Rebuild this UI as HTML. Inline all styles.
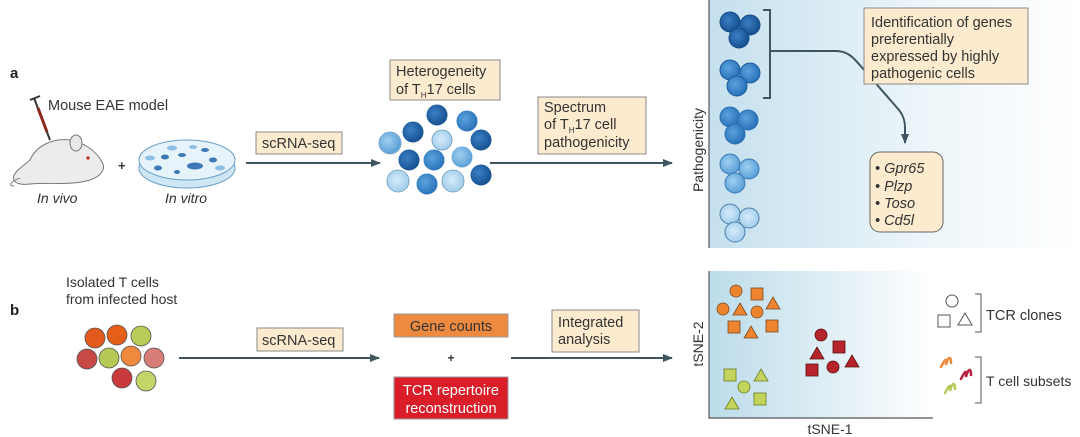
<!DOCTYPE html>
<html><head><meta charset="utf-8"><style>
html,body{margin:0;padding:0;background:#fff;}
svg{display:block;font-family:"Liberation Sans",sans-serif;}
</style></head><body>
<svg width="1080" height="437" viewBox="0 0 1080 437" xmlns="http://www.w3.org/2000/svg">
<defs>
<linearGradient id="gA" x1="0" y1="0" x2="1" y2="0"><stop offset="0" stop-color="#c5e0ee"/><stop offset="0.6" stop-color="#eef6fa"/><stop offset="1" stop-color="#ffffff"/></linearGradient>
<linearGradient id="gB" x1="0" y1="0" x2="1" y2="0"><stop offset="0" stop-color="#bcdcea"/><stop offset="1" stop-color="#ffffff"/></linearGradient>
<marker id="ar" markerWidth="10" markerHeight="8" refX="9" refY="4" orient="auto" markerUnits="userSpaceOnUse"><path d="M0,0 L10,4 L0,8 z" fill="#3e5560"/></marker>
<radialGradient id="cd" cx="0.4" cy="0.4" r="0.6"><stop offset="0" stop-color="#3c7fc4"/><stop offset="1" stop-color="#14508f"/></radialGradient>
<radialGradient id="cm" cx="0.4" cy="0.4" r="0.6"><stop offset="0" stop-color="#5aa3dc"/><stop offset="1" stop-color="#2a72ba"/></radialGradient>
<radialGradient id="cl" cx="0.4" cy="0.4" r="0.6"><stop offset="0" stop-color="#9fd0f0"/><stop offset="1" stop-color="#5a9fd6"/></radialGradient>
<radialGradient id="cp" cx="0.45" cy="0.45" r="0.6"><stop offset="0" stop-color="#d6ebf8"/><stop offset="1" stop-color="#9ccbec"/></radialGradient>
</defs>

<!-- Panel a -->
<text x="10" y="78" font-size="15" font-weight="bold" fill="#222">a</text>
<g stroke="#333" stroke-width="2"><line x1="34" y1="98" x2="50" y2="140"/></g>
<line x1="38" y1="108" x2="47" y2="132" stroke="#8a2a1a" stroke-width="3"/>
<line x1="30" y1="100" x2="40" y2="96" stroke="#333" stroke-width="2"/>
<text x="48" y="110" font-size="14.5" fill="#333">Mouse EAE model</text>
<path d="M18,170 C10,178 12,186 30,184 C50,182 70,186 90,180 C102,176 106,168 102,162 C96,150 82,142 70,140 C52,138 36,146 30,160 Z" fill="#ececec" stroke="#777" stroke-width="1"/>
<ellipse cx="76" cy="143" rx="6" ry="8" fill="#e8e8e8" stroke="#777"/>
<circle cx="88" cy="158" r="1.6" fill="#c22"/>
<path d="M20,178 C10,182 8,186 14,186" fill="none" stroke="#888"/>
<text x="37" y="203" font-size="14" font-style="italic" fill="#333">In vivo</text>
<text x="118" y="170" font-size="13" font-weight="bold" fill="#333">+</text>
<ellipse cx="187" cy="168" rx="48" ry="20" fill="#cfe6f4" stroke="#6aa0c8"/>
<ellipse cx="187" cy="160" rx="48" ry="20" fill="#e6f3fb" stroke="#6aa0c8"/>
<g fill="#3d78b4"><ellipse cx="165" cy="157" rx="4" ry="2.5"/><ellipse cx="195" cy="166" rx="8" ry="3.5"/><ellipse cx="182" cy="155" rx="4" ry="2"/><ellipse cx="158" cy="168" rx="4" ry="2.5"/><ellipse cx="213" cy="160" rx="4" ry="2.5"/><ellipse cx="205" cy="150" rx="4" ry="2"/><ellipse cx="177" cy="172" rx="3" ry="2"/></g>
<g fill="#8cbfe3"><ellipse cx="172" cy="148" rx="5" ry="2.5"/><ellipse cx="150" cy="158" rx="5" ry="2.5"/><ellipse cx="220" cy="168" rx="5" ry="2.5"/><ellipse cx="193" cy="147" rx="4" ry="2"/></g>
<text x="165" y="203" font-size="14" font-style="italic" fill="#333">In vitro</text>

<rect x="256" y="132" width="86" height="22" fill="#fcebcf" stroke="#8a8a8a"/>
<text x="262" y="148" font-size="14.5" fill="#333">scRNA-seq</text>
<line x1="246" y1="163" x2="380" y2="163" stroke="#3e5560" stroke-width="2" marker-end="url(#ar)"/>

<rect x="390" y="60" width="110" height="40" fill="#fcebcf" stroke="#8a8a8a"/>
<text x="396" y="76" font-size="14.5" fill="#333">Heterogeneity</text>
<text x="396" y="94" font-size="14.5" fill="#333">of T<tspan font-size="8" dy="4">H</tspan><tspan dy="-4">17 cells</tspan></text>

<g stroke="#fff" stroke-width="1">
<circle cx="437" cy="115" r="11" fill="url(#cd)"/>
<circle cx="467" cy="121" r="11" fill="url(#cm)"/>
<circle cx="413" cy="132" r="11" fill="url(#cd)"/>
<circle cx="442" cy="140" r="10" fill="url(#cp)"/>
<circle cx="390" cy="143" r="11" fill="url(#cl)"/>
<circle cx="481" cy="140" r="11" fill="url(#cd)"/>
<circle cx="409" cy="160" r="11" fill="url(#cd)"/>
<circle cx="434" cy="160" r="11" fill="url(#cm)"/>
<circle cx="462" cy="157" r="11" fill="url(#cl)"/>
<circle cx="398" cy="181" r="11" fill="url(#cp)"/>
<circle cx="427" cy="184" r="11" fill="url(#cm)"/>
<circle cx="453" cy="181" r="11" fill="url(#cp)"/>
<circle cx="481" cy="175" r="11" fill="url(#cd)"/>
</g>
<g fill="none" stroke="#5a8fb8" stroke-width="0.8">
<circle cx="442" cy="140" r="10"/><circle cx="398" cy="181" r="11"/><circle cx="453" cy="181" r="11"/><circle cx="390" cy="143" r="11"/>
</g>

<line x1="490" y1="163" x2="672" y2="163" stroke="#3e5560" stroke-width="2" marker-end="url(#ar)"/>
<rect x="538" y="97" width="108" height="57" fill="#fcebcf" stroke="#8a8a8a"/>
<text x="544" y="112" font-size="14.5" fill="#333">Spectrum</text>
<text x="544" y="129" font-size="14.5" fill="#333">of T<tspan font-size="8" dy="4">H</tspan><tspan dy="-4">17 cell</tspan></text>
<text x="544" y="147" font-size="14.5" fill="#333">pathogenicity</text>

<rect x="709" y="0" width="371" height="248" fill="url(#gA)"/>
<line x1="709" y1="0" x2="709" y2="248" stroke="#555" stroke-width="1.2"/>
<text transform="translate(703,150) rotate(-90)" text-anchor="middle" font-size="14" fill="#333">Pathogenicity</text>
<g stroke-width="1">
<g fill="url(#cd)" stroke="#164c86"><circle cx="730" cy="22" r="10"/><circle cx="750" cy="25" r="10"/><circle cx="739" cy="38" r="10"/></g>
<g fill="url(#cm)" stroke="#1f5c9c"><circle cx="730" cy="70" r="10"/><circle cx="750" cy="73" r="10"/><circle cx="737" cy="86" r="10"/></g>
<g fill="url(#cm)" stroke="#2a6eb0"><circle cx="730" cy="117" r="10"/><circle cx="748" cy="120" r="10"/><circle cx="735" cy="134" r="10"/></g>
<g fill="url(#cl)" stroke="#3a7ab8"><circle cx="730" cy="164" r="10"/><circle cx="749" cy="169" r="10"/><circle cx="735" cy="183" r="10"/></g>
<g fill="url(#cp)" stroke="#4b7fa8"><circle cx="730" cy="214" r="10"/><circle cx="749" cy="218" r="10"/><circle cx="735" cy="232" r="10"/></g>
</g>
<path d="M763,10 H770 V98 H763" fill="none" stroke="#3e5560" stroke-width="2"/>
<path d="M770,51 H836 C846,51 852,56 858,63 L899,110 C903,115 905,120 905,128 V143" fill="none" stroke="#3e5560" stroke-width="2" marker-end="url(#ar)"/>
<rect x="864" y="8" width="164" height="76" fill="#fcebcf" stroke="#8a8a8a"/>
<text x="871" y="27" font-size="14.5" fill="#333">Identification of genes</text>
<text x="871" y="44" font-size="14.5" fill="#333">preferentially</text>
<text x="871" y="61" font-size="14.5" fill="#333">expressed by highly</text>
<text x="871" y="78" font-size="14.5" fill="#333">pathogenic cells</text>
<rect x="870" y="152" width="73" height="80" rx="10" fill="#fcebcf" stroke="#666"/>
<g font-size="14.5" font-style="italic" fill="#333">
<text x="875" y="173">• Gpr65</text><text x="875" y="191">• Plzp</text><text x="875" y="208">• Toso</text><text x="875" y="225">• Cd5l</text>
</g>

<!-- Panel b -->
<text x="10" y="315" font-size="15" font-weight="bold" fill="#222">b</text>
<text x="66" y="287" font-size="14" fill="#333">Isolated T cells</text>
<text x="66" y="304" font-size="14" fill="#333">from infected host</text>
<g stroke="#555" stroke-width="0.8">
<circle cx="95" cy="338" r="10" fill="#e25a1c"/>
<circle cx="117" cy="335" r="10" fill="#e65f18"/>
<circle cx="141" cy="336" r="10" fill="#b8cc5a"/>
<circle cx="87" cy="359" r="10" fill="#c84845"/>
<circle cx="109" cy="358" r="10" fill="#b5c956"/>
<circle cx="131" cy="356" r="10" fill="#ef8a3c"/>
<circle cx="154" cy="358" r="10" fill="#d77d78"/>
<circle cx="122" cy="378" r="10" fill="#c83a3c"/>
<circle cx="146" cy="381" r="10" fill="#c4d466"/>
</g>
<line x1="179" y1="358" x2="379" y2="358" stroke="#3e5560" stroke-width="2" marker-end="url(#ar)"/>
<rect x="257" y="328" width="86" height="23" fill="#fcebcf" stroke="#8a8a8a"/>
<text x="262" y="345" font-size="14.5" fill="#333">scRNA-seq</text>
<rect x="394" y="314" width="114" height="23" fill="#ee8a40" stroke="#999"/>
<text x="451" y="331" font-size="14.5" fill="#333" text-anchor="middle">Gene counts</text>
<text x="451" y="362" font-size="12" font-weight="bold" fill="#333" text-anchor="middle">+</text>
<rect x="394" y="377" width="114" height="42" fill="#d91e2a" stroke="#999"/>
<text x="451" y="395" font-size="14.5" fill="#fff" text-anchor="middle">TCR repertoire</text>
<text x="451" y="413" font-size="14.5" fill="#fff" text-anchor="middle">reconstruction</text>
<line x1="511" y1="358" x2="672" y2="358" stroke="#3e5560" stroke-width="2" marker-end="url(#ar)"/>
<rect x="552" y="310" width="87" height="42" fill="#fcebcf" stroke="#8a8a8a"/>
<text x="558" y="327" font-size="14.5" fill="#333">Integrated</text>
<text x="558" y="344" font-size="14.5" fill="#333">analysis</text>

<rect x="709" y="271" width="224" height="147" fill="url(#gB)"/>
<path d="M709,271 V418 H933" fill="none" stroke="#555" stroke-width="1.2"/>
<text transform="translate(703,344) rotate(-90)" text-anchor="middle" font-size="14" fill="#333">tSNE-2</text>
<text x="830" y="434" font-size="14" fill="#333" text-anchor="middle">tSNE-1</text>
<g stroke="#7a4a20" stroke-width="0.8" fill="#ee8430">
<circle cx="736" cy="291" r="6"/><rect x="751" y="288" width="12" height="12"/><circle cx="723" cy="309" r="6"/><path d="M740,303 L747,315 L733,315Z"/><circle cx="757" cy="312" r="6"/><path d="M773,297 L780,309 L766,309Z"/><rect x="728" y="321" width="12" height="12"/><path d="M751,326 L758,338 L744,338Z"/><rect x="766" y="320" width="12" height="12"/>
</g>
<g stroke="#5a1010" stroke-width="0.8" fill="#b8242c">
<circle cx="821" cy="335" r="6"/><rect x="833" y="341" width="12" height="12"/><path d="M817,347 L824,359 L810,359Z"/><path d="M852,355 L859,367 L845,367Z"/><rect x="806" y="364" width="12" height="12"/><circle cx="833" cy="367" r="6"/>
</g>
<g stroke="#6a7a20" stroke-width="0.8" fill="#c3d45c">
<rect x="724" y="369" width="12" height="12"/><path d="M761,369 L768,381 L754,381Z"/><circle cx="744" cy="387" r="6"/><path d="M732,397 L739,409 L725,409Z"/><rect x="754" y="393" width="12" height="12"/>
</g>
<g fill="none" stroke="#555" stroke-width="1">
<circle cx="952" cy="301" r="6"/><rect x="938" y="315" width="12" height="12"/><path d="M965,313 L972,325 L958,325Z"/>
<path d="M975,294 H981 V332 H975"/><path d="M975,357 H981 V403 H975"/>
</g>
<text x="986" y="320" font-size="14.5" fill="#333">TCR clones</text>
<text x="986" y="386" font-size="14" fill="#333">T cell subsets</text>
<g fill="none" stroke-width="2.5" stroke-linecap="round">
<path d="M941,367 C945,359 947,357 946,365 C948,357 951,355 951,363" stroke="#ef8a3c"/>
<path d="M961,379 C965,371 967,369 966,377 C968,369 971,367 971,375" stroke="#b82040"/>
<path d="M945,393 C949,385 951,383 950,391 C952,383 955,381 955,389" stroke="#b5c956"/>
</g>
</svg>
</body></html>
